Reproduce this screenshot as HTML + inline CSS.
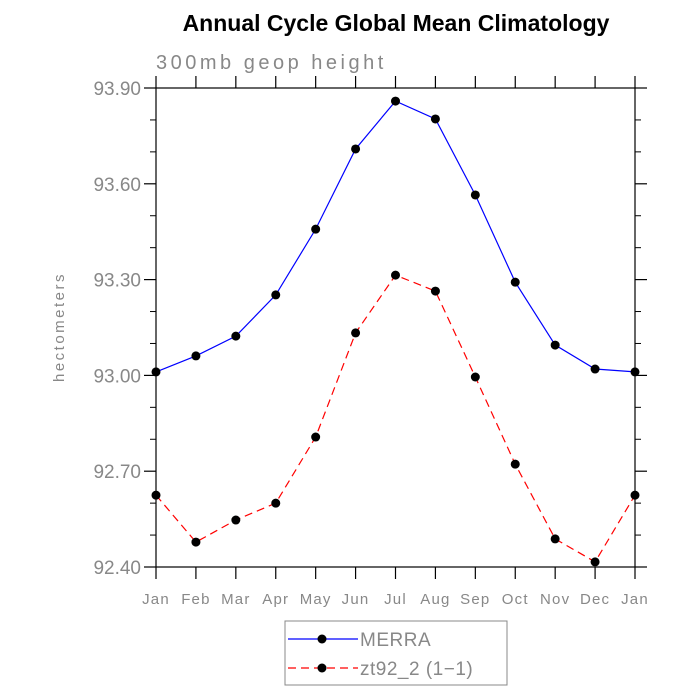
<!DOCTYPE html>
<html><head><meta charset="utf-8"><style>
body{margin:0;background:#fff}
svg{display:block}
text{font-family:"Liberation Sans","DejaVu Sans",sans-serif}
</style></head><body>
<svg id="c" width="700" height="700" xmlns="http://www.w3.org/2000/svg">
<text x="396" y="31" text-anchor="middle" font-size="23" font-weight="bold" fill="#000">Annual Cycle Global Mean Climatology</text>
<text x="156" y="69" font-size="20" fill="#888" letter-spacing="3.5">300mb geop height</text>
<text transform="translate(64,327) rotate(-90)" text-anchor="middle" font-size="15" fill="#888" letter-spacing="2.5">hectometers</text>
<g id="axes"></g>
<g id="series"></g>
<g>
<rect x="285" y="621" width="222" height="64" fill="#fff" stroke="#888" stroke-width="1"/>
<g>
<line x1="288" y1="639" x2="358" y2="639" stroke="#00f" stroke-width="1.2"/>
<circle cx="322" cy="639" r="4.5" fill="#000"/>
<text x="360" y="646" font-size="19" fill="#888" letter-spacing="0.5">MERRA</text>
</g>
<g>
<line x1="288" y1="668" x2="358" y2="668" stroke="#f00" stroke-width="1.2" stroke-dasharray="8,5"/>
<circle cx="322" cy="668" r="4.5" fill="#000"/>
<text x="360" y="675" font-size="19" fill="#888" letter-spacing="0.5">zt92_2 (1−1)</text>
</g>
</g>
</svg>
<script>
const months=["Jan","Feb","Mar","Apr","May","Jun","Jul","Aug","Sep","Oct","Nov","Dec","Jan"];
const merra=[93.011,93.061,93.123,93.252,93.458,93.709,93.859,93.803,93.565,93.292,93.095,93.020,93.011];
const zt92=[92.625,92.478,92.547,92.600,92.807,93.133,93.314,93.264,92.995,92.722,92.488,92.416,92.625];
const yTicks=[92.40,92.70,93.00,93.30,93.60,93.90];
const L=156,R=635,T=88,B=567,ymin=92.4,ymax=93.9;
const NS="http://www.w3.org/2000/svg";
function X(i){return L+(R-L)*i/(months.length-1);}
function Y(v){return B-(v-ymin)/(ymax-ymin)*(B-T);}
function mk(tag,attrs,parent){const e=document.createElementNS(NS,tag);for(const k in attrs)e.setAttribute(k,attrs[k]);parent.appendChild(e);return e;}
const ax=document.getElementById('axes');
const frame=mk('rect',{x:L,y:T,width:R-L,height:B-T,fill:'none',stroke:'#000','stroke-width':1.2},ax);


months.forEach((m,i)=>{
  const x=X(i);
  mk('line',{x1:x,y1:B,x2:x,y2:B+12,stroke:'#000','stroke-width':1.2},ax);
  mk('line',{x1:x,y1:T,x2:x,y2:T-12,stroke:'#000','stroke-width':1.2},ax);
  const t=mk('text',{x:x,y:B+37,'text-anchor':'middle','font-size':15,fill:'#888','letter-spacing':1.2},ax);
  t.textContent=m;
  
  
});
yTicks.forEach((v,i)=>{
  const y=Y(v);
  mk('line',{x1:L-12,y1:y,x2:L,y2:y,stroke:'#000','stroke-width':1.2},ax);
  mk('line',{x1:R,y1:y,x2:R+12,y2:y,stroke:'#000','stroke-width':1.2},ax);
  if(i<yTicks.length-1){for(let k=1;k<3;k++){const ym=Y(v+(yTicks[1]-yTicks[0])*k/3);
    mk('line',{x1:L-6,y1:ym,x2:L,y2:ym,stroke:'#000','stroke-width':1},ax);
    mk('line',{x1:R,y1:ym,x2:R+6,y2:ym,stroke:'#000','stroke-width':1},ax);}}
  const t=mk('text',{x:L-15,y:y+7,'text-anchor':'end','font-size':19,fill:'#888'},ax);
  t.textContent=v.toFixed(2);
  
  
});
const sg=document.getElementById('series');
function drawSeries(vals,color,dash,name){
  const g=mk('g',{},sg);
  
  
  const p=mk('polyline',{points:vals.map((v,i)=>X(i)+','+Y(v)).join(' '),fill:'none',stroke:color,'stroke-width':1.2},g);
  if(dash)p.setAttribute('stroke-dasharray',dash);
  
  
  vals.forEach((v,i)=>{
    const c=mk('circle',{cx:X(i),cy:Y(v),r:4.5,fill:'#000'},g);
    
    
  });
}
drawSeries(merra,'#00f',null,'merra-series');
drawSeries(zt92,'#f00','8,5','zt92-series');
</script>
</body></html>
